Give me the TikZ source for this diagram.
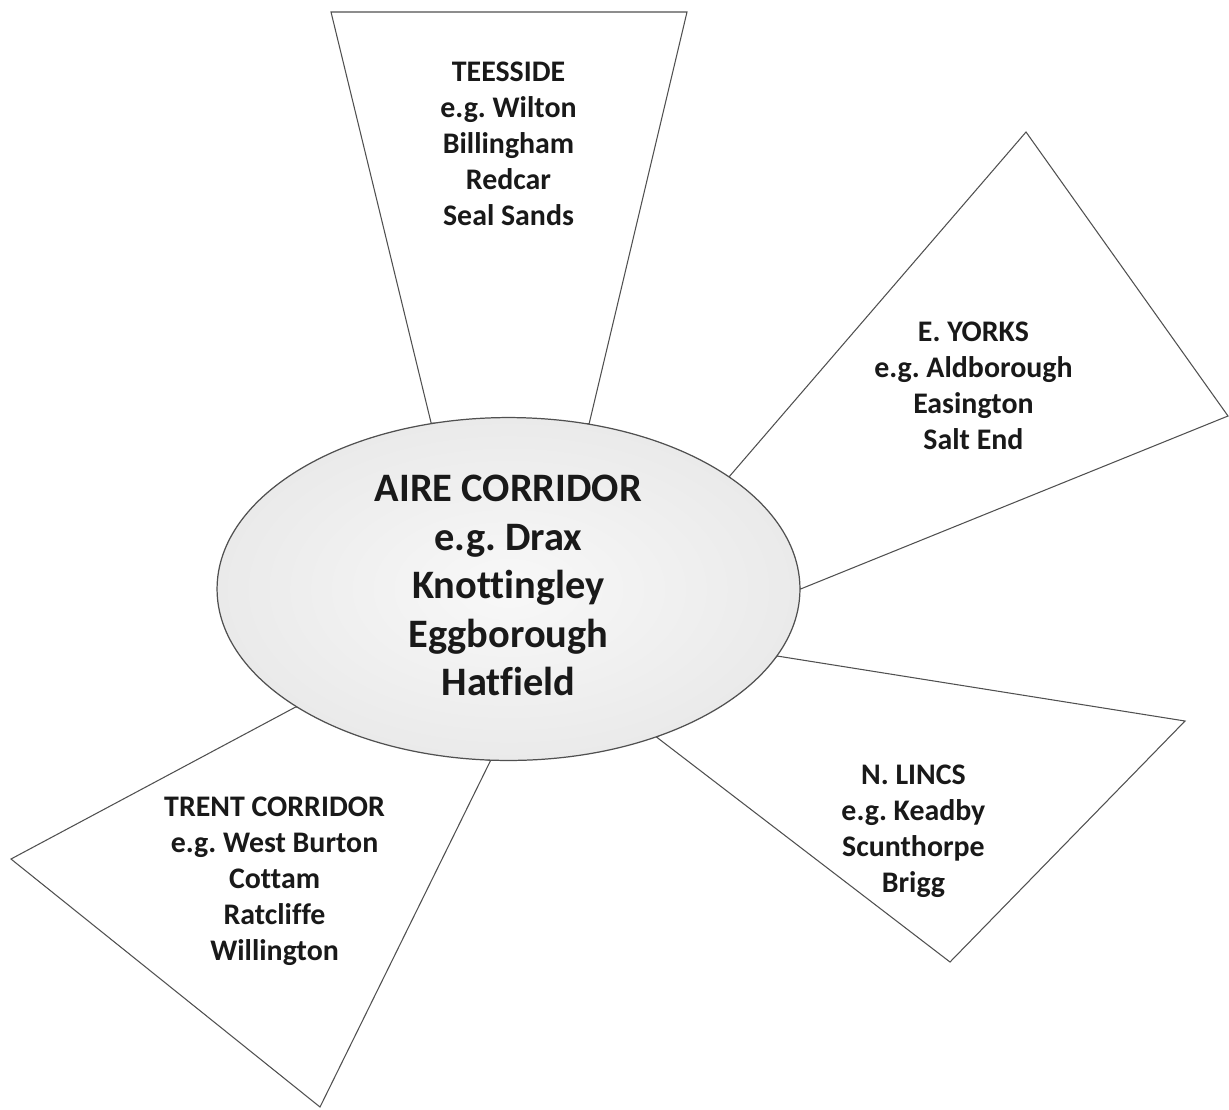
\documentclass[tikz,border=0pt]{standalone}
\usepackage{fontspec}
\setmainfont{Carlito}[Ligatures={NoCommon}]
\usepackage{tikz}
\usetikzlibrary{shapes,positioning,backgrounds}
\usepackage{xcolor}
\definecolor{dfline}{RGB}{80,80,80}
\definecolor{dftext}{RGB}{25,25,25}
\definecolor{dfhubin}{RGB}{248,248,248}
\definecolor{dfhubout}{RGB}{234,234,234}
\tikzstyle{zone} = [draw=dfline, fill=white, line width=0.6pt, line join=miter]
\tikzstyle{hub} = [ellipse, minimum width=11.66cm, minimum height=6cm, inner sep=0pt, text centered, draw=dfline, line width=0.7pt, inner color=dfhubin, outer color=dfhubout, text=dftext, font=\fontsize{23}{27.6}\selectfont\bfseries\frenchspacing]
\tikzstyle{sites} = [text centered, inner sep=0pt, text=dftext, font=\fontsize{17}{20.5}\selectfont\bfseries\frenchspacing]

\begin{document}
\begin{tikzpicture}[x=0.02cm, y=-0.02cm]
\useasboundingbox (0,0) rectangle (1229,1109);
% Hub
\node (hub) [hub] at (508.5,589) {
\begin{tabular}{@{}c@{}}
AIRE CORRIDOR\\
e.g. Drax\\
Knottingley\\
Eggborough\\
Hatfield
\end{tabular}
};

% Regions
\node (teesside) [sites, above of=hub, node distance=8.86cm] {
\begin{tabular}{@{}c@{}}
TEESSIDE\\
e.g. Wilton\\
Billingham\\
Redcar\\
Seal Sands
\end{tabular}
};

\node (eyorks) [sites, right of=hub, node distance=9.3cm, yshift=4.02cm] {
\begin{tabular}{@{}c@{}}
E. YORKS\\
e.g. Aldborough\\
Easington\\
Salt End
\end{tabular}
};

\node (nlincs) [sites, right of=hub, node distance=8.1cm, yshift=-4.84cm] {
\begin{tabular}{@{}c@{}}
N. LINCS\\
e.g. Keadby\\
Scunthorpe\\
Brigg
\end{tabular}
};

\node (trent) [sites, left of=hub, node distance=4.68cm, yshift=-5.84cm] {
\begin{tabular}{@{}c@{}}
TRENT CORRIDOR\\
e.g. West Burton\\
Cottam\\
Ratcliffe\\
Willington
\end{tabular}
};

% Funnels
\begin{scope}[on background layer]
\draw[zone] (hub.115.6) -- (331,12) -- (687,12) -- (hub.64.1) -- cycle;
\draw[zone] (hub.27.5) -- (1026,132) -- (1228,416) -- (hub.0.5) -- cycle;
\draw[zone] (hub.346.3) -- (1185,721) -- (950,962) -- (hub.315.6) -- cycle;
\draw[zone] (hub.264.3) -- (320,1107) -- (11,859) -- (hub.209.9) -- cycle;
\end{scope}
\end{tikzpicture}
\end{document}
